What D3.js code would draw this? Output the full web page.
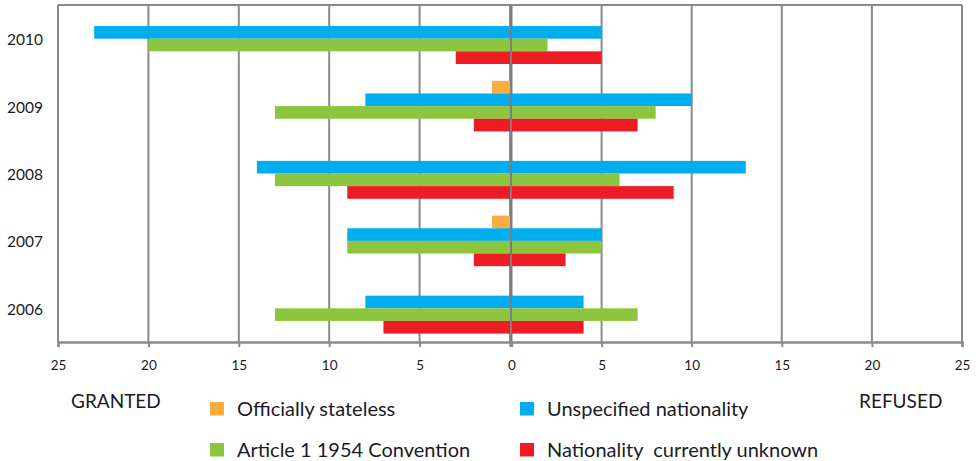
<!DOCTYPE html>
<html><head><meta charset="utf-8">
<script src="https://cdn.jsdelivr.net/npm/d3@7"></script>
<style>
body{margin:0;background:#fff;}
svg{display:block;font-family:Lato,"Open Sans",sans-serif;}
</style></head>
<body><svg id="c" width="976" height="461"></svg>
<script>
const years = ["2010","2009","2008","2007","2006"];
const seriesNames = ["Officially stateless","Unspecified nationality","Article 1 1954 Convention","Nationality  currently unknown"];
const seriesColors = ["#FBAD3F","#00ADEE","#8CC63F","#ED1C24"];
// granted (left) values per series, per year
const grantedStateless   = [0,1,0,1,0];
const grantedUnspecified = [23,8,14,9,8];
const grantedArticle1    = [20,13,13,9,13];
const grantedUnknown     = [3,2,9,2,7];
// refused (right) values per series, per year
const refusedStateless   = [0,0,0,0,0];
const refusedUnspecified = [5,10,13,5,4];
const refusedArticle1    = [2,8,6,5,7];
const refusedUnknown     = [5,7,9,3,4];
const tickValues = [0,5,10,15,20,25];

const granted = [grantedStateless,grantedUnspecified,grantedArticle1,grantedUnknown];
const refused = [refusedStateless,refusedUnspecified,refusedArticle1,refusedUnknown];

const svg = d3.select("#c");
const topY = 5, bottomY = 342;
const xL = d3.scaleLinear().domain([25,0]).range([58,510]);
const xR = d3.scaleLinear().domain([0,25]).range([511.5,962]);
const y = d3.scaleBand().domain(years).range([topY,bottomY]).padding(0);
const bw = y.bandwidth();
const ys = d3.scaleBand().domain(seriesNames).range([bw*0.125, bw*0.875]).padding(0);

const grid = "#8a8a8e";
const txt = "#1a1a26";
// gridlines
const gG = svg.append("g");
tickValues.forEach(v=>{
  gG.append("line").attr("x1",xL(v)).attr("x2",xL(v)).attr("y1",topY).attr("y2",bottomY)
    .attr("stroke",grid).attr("stroke-width",2);
  if(v>0) gG.append("line").attr("x1",xR(v)).attr("x2",xR(v)).attr("y1",topY).attr("y2",bottomY)
    .attr("stroke",grid).attr("stroke-width",2);
});
gG.append("line").attr("x1",xR(0)).attr("x2",xR(0)).attr("y1",topY).attr("y2",bottomY)
  .attr("stroke","#7a7a7e").attr("stroke-width",2);
gG.append("line").attr("x1",xL(25)).attr("x2",xR(25)).attr("y1",topY).attr("y2",topY)
  .attr("stroke",grid).attr("stroke-width",2);

// bars
seriesNames.forEach((s,i)=>{
  const rows = years.map((yr,j)=>({yr,g:granted[i][j],r:refused[i][j]}));
  svg.append("g").selectAll("rect").data(rows.filter(d=>d.g>0)).join("rect")
    .attr("x",d=>xL(d.g)).attr("width",d=>xL(0)-xL(d.g))
    .attr("y",d=>y(d.yr)+ys(s)).attr("height",ys.bandwidth())
    .attr("fill",seriesColors[i]);
  svg.append("g").selectAll("rect").data(rows.filter(d=>d.r>0)).join("rect")
    .attr("x",d=>xR(0)+0.5).attr("width",d=>xR(d.r)-xR(0)-0.5)
    .attr("y",d=>y(d.yr)+ys(s)).attr("height",ys.bandwidth())
    .attr("fill",seriesColors[i]);
});

// axes
const axL = svg.append("g").attr("transform",`translate(0,${bottomY})`)
  .call(d3.axisBottom(xL).tickValues(tickValues.filter(v=>v>0)).tickSize(5).tickPadding(13));
const axR = svg.append("g").attr("transform",`translate(0,${bottomY})`)
  .call(d3.axisBottom(xR).tickValues(tickValues).tickSize(5).tickPadding(13));
[axL,axR].forEach(a=>{
  a.select(".domain").attr("stroke",grid).attr("stroke-width",2.5);
  a.selectAll(".tick line").attr("stroke",grid).attr("stroke-width",2);
  a.selectAll(".tick text").attr("fill",txt).attr("font-size",13.5).attr("font-family","Lato, sans-serif");
});

// year labels
svg.append("g").selectAll("text").data(years).join("text")
  .attr("x",43).attr("y",d=>y(d)+bw/2+2.5).attr("text-anchor","end")
  .attr("dominant-baseline","middle").attr("font-size",15.5).attr("fill",txt).text(d=>d);

// side labels
svg.append("text").attr("x",71).attr("y",408).attr("font-size",19).attr("fill",txt).text("GRANTED");
svg.append("text").attr("x",859).attr("y",408).attr("font-size",19).attr("fill",txt).text("REFUSED");

// legend
const legPos = [[210,402],[520,402],[210,443],[520,443]];
seriesNames.forEach((s,i)=>{
  const [lx,ly] = legPos[i];
  svg.append("rect").attr("x",lx).attr("y",ly).attr("width",14).attr("height",13.5).attr("fill",seriesColors[i]);
  svg.append("text").attr("x",lx+27).attr("y",ly+14).attr("font-size",20).attr("fill",txt)
    .style("white-space","pre").text(s);
});
</script>
</body></html>
